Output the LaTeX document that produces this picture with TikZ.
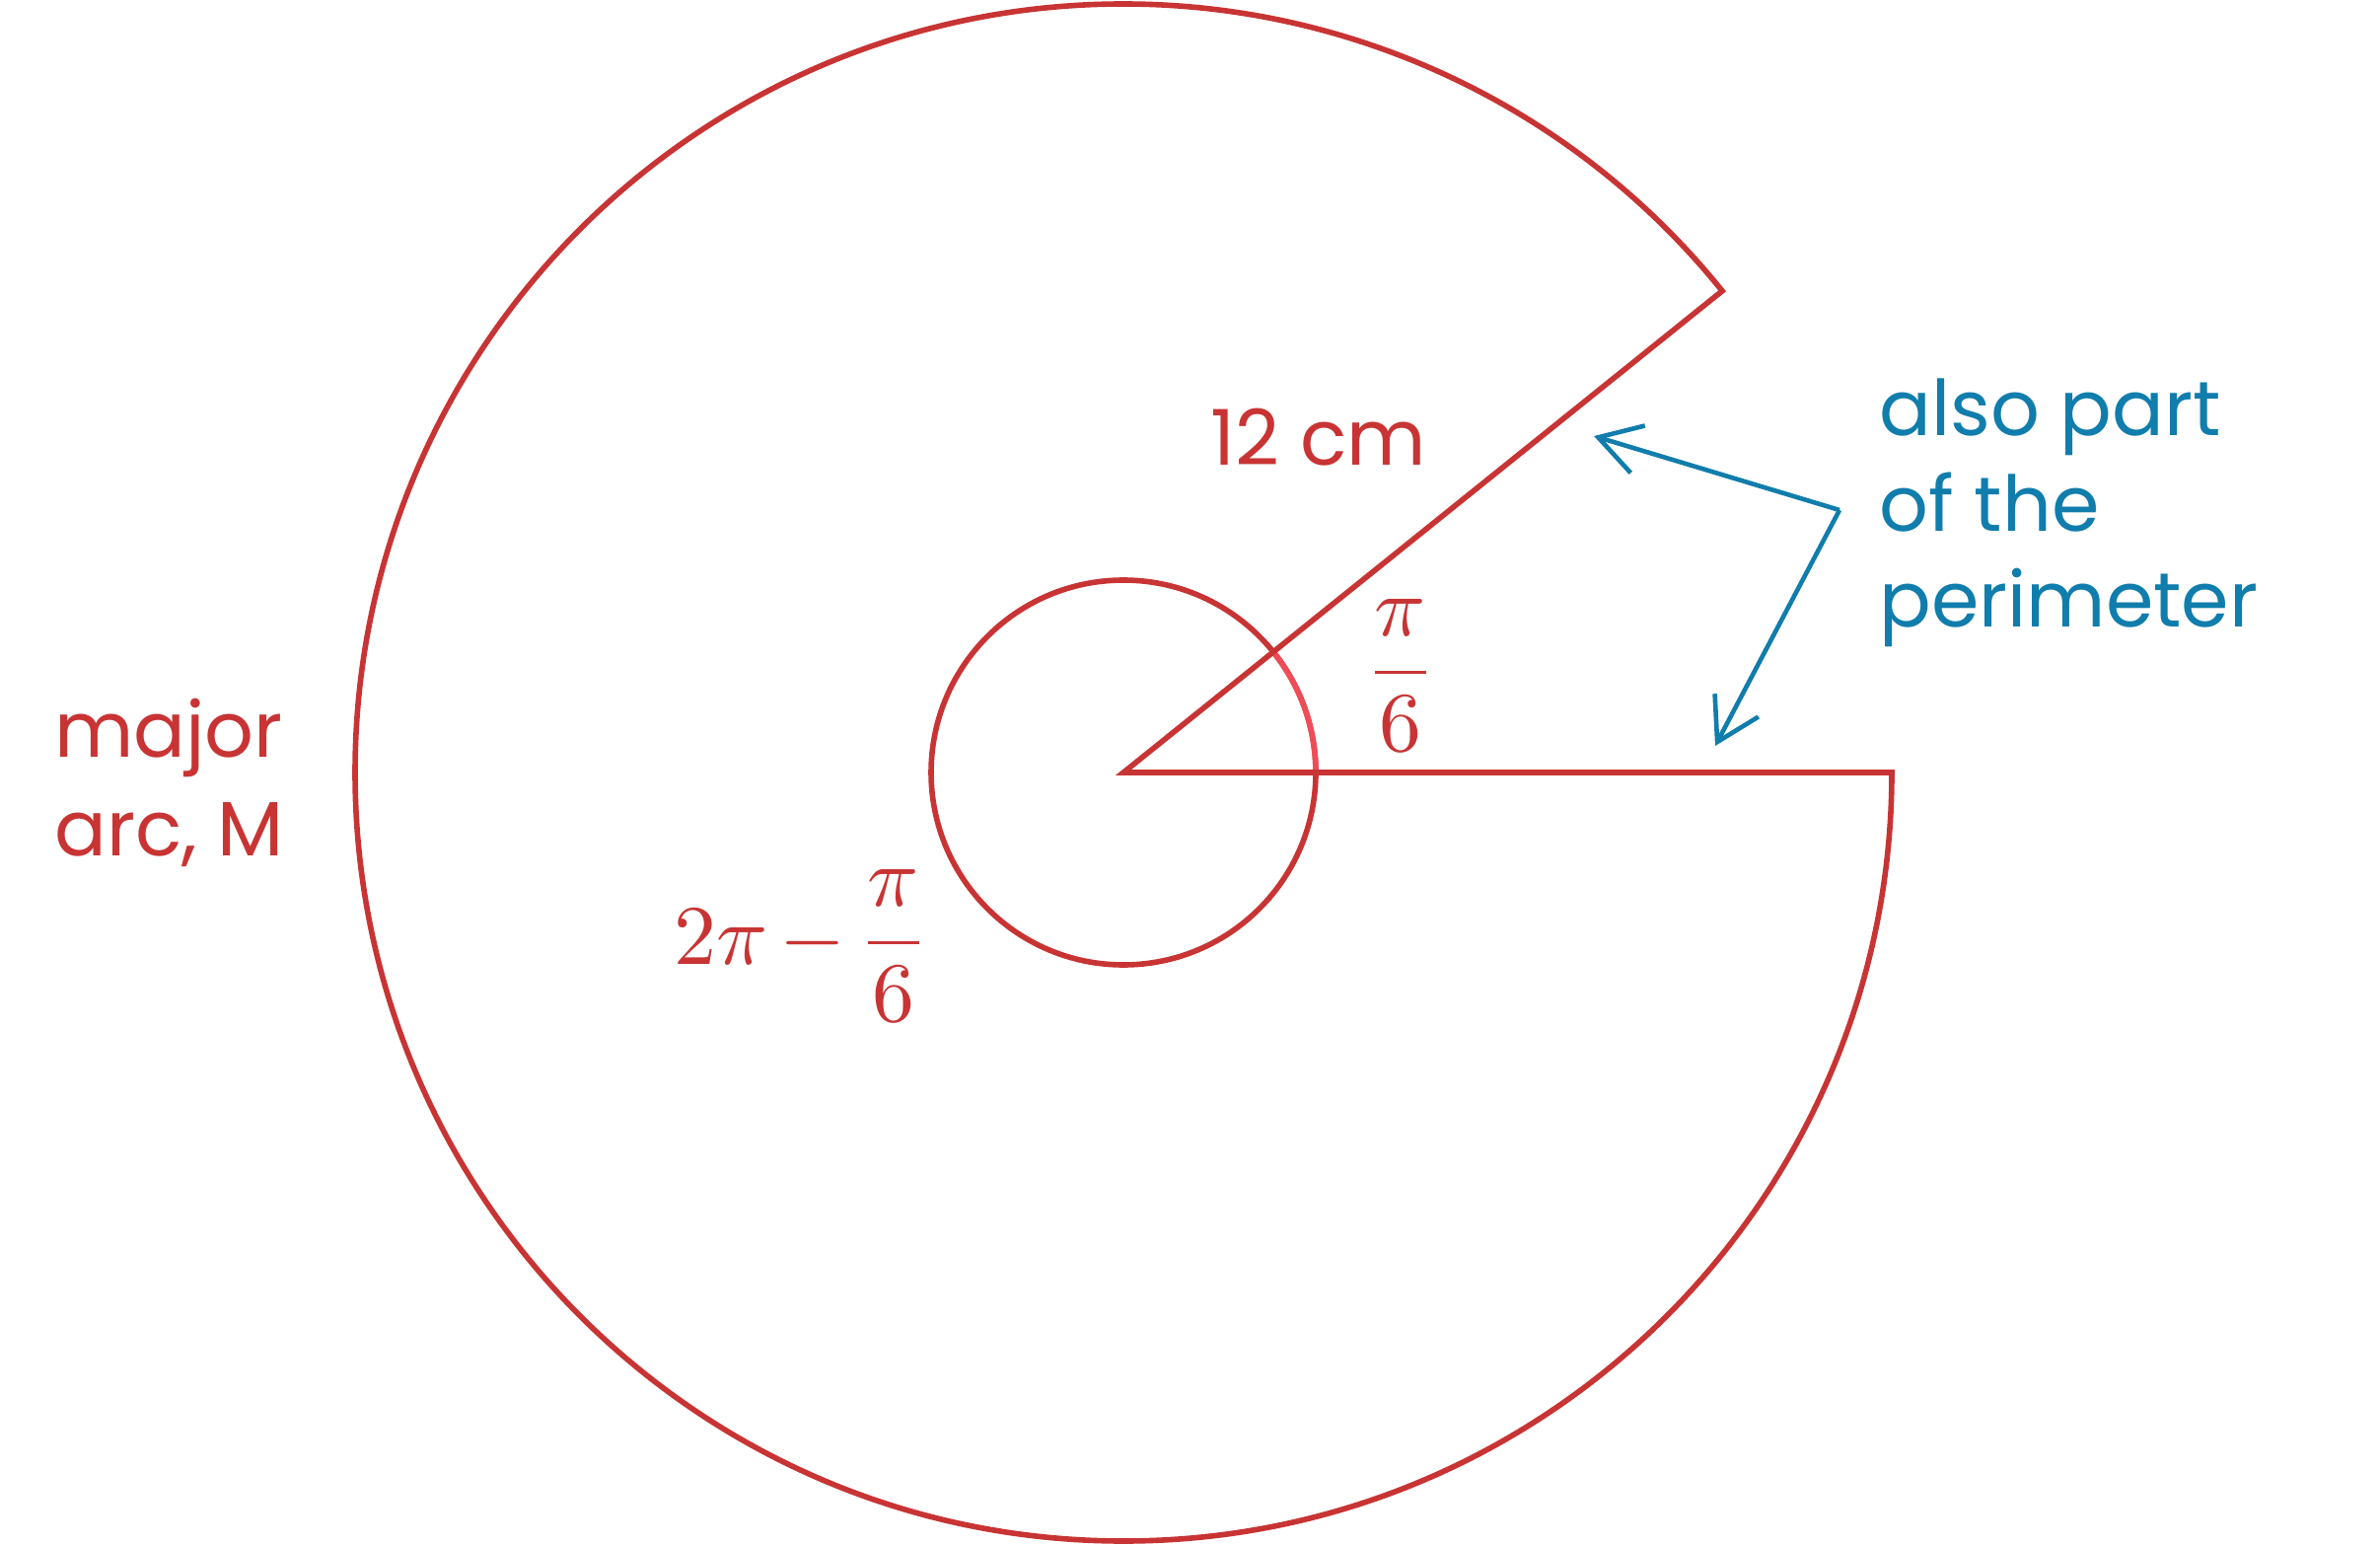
\documentclass[tikz,border=0pt]{standalone}
\usepackage{graphicx}
\usepackage[no-math]{fontspec}
\setmainfont{Poppins}
\usetikzlibrary{arrows.meta}
\definecolor{arcred}{RGB}{200,52,52}
\definecolor{lightred}{RGB}{238,76,86}
\definecolor{noteblue}{RGB}{16,125,172}
\begin{document}
\begin{tikzpicture}[x=0.5pt,y=0.5pt,
  shapeline/.style={draw=arcred, line width=2.8pt, line join=miter},
  notearrow/.style={draw=noteblue, line width=2.3pt, -{Straight Barb[length=21pt,width=25pt]}},
  redtext/.style={text=arcred, font=\fontsize{39}{48}\selectfont, inner sep=0pt, anchor=base west},
  bluetext/.style={text=noteblue, font=\fontsize{39}{48}\selectfont, inner sep=0pt, anchor=base west},
  mathlabel/.style={text=arcred, inner sep=0pt}]
\useasboundingbox (0,0) rectangle (2413,-1566);
\coordinate (C) at (1139,-783);
% inner angle circle
\draw[arcred, line width=2.8pt] (C) circle[radius=195];
\draw[lightred, line width=2.8pt] (C) ++(0:195) arc[start angle=0, end angle=38.8, radius=195];
% major sector outline
\draw[shapeline] (C) -- ++(0:779) coordinate (E)
  arc[start angle=0, end angle=-321.2, radius=779] coordinate (U) -- cycle;
% labels
\node[redtext] (n12) at (1227,-472) {12 cm};
\node[mathlabel, anchor=base] (npi) at (1420,-703) {\scalebox{4.3}{$\displaystyle\frac{\pi}{6}$}};
\node[mathlabel, anchor=base west] (n2pi) at (683,-977) {\scalebox{4.3}{$\displaystyle 2\pi\mskip2.5mu{-}\mskip2.5mu\frac{\pi}{6}$}};
\node[redtext] (nmaj1) at (55,-767) {major};
\node[redtext] (nmaj2) at (55,-867) {arc, M};
\node[bluetext] (nb1) at (1905,-442) {also part};
\node[bluetext] (nb2) at (1905,-539) {of the};
\node[bluetext] (nb3) at (1905,-636) {perimeter};
% arrows
\coordinate (S) at (1865,-517);
\coordinate (T1) at (1616,-442);
\coordinate (T2) at (1739,-756);
\draw[notearrow] (S) -- (T1);
\draw[notearrow] (S) -- (T2);
\end{tikzpicture}
\end{document}
